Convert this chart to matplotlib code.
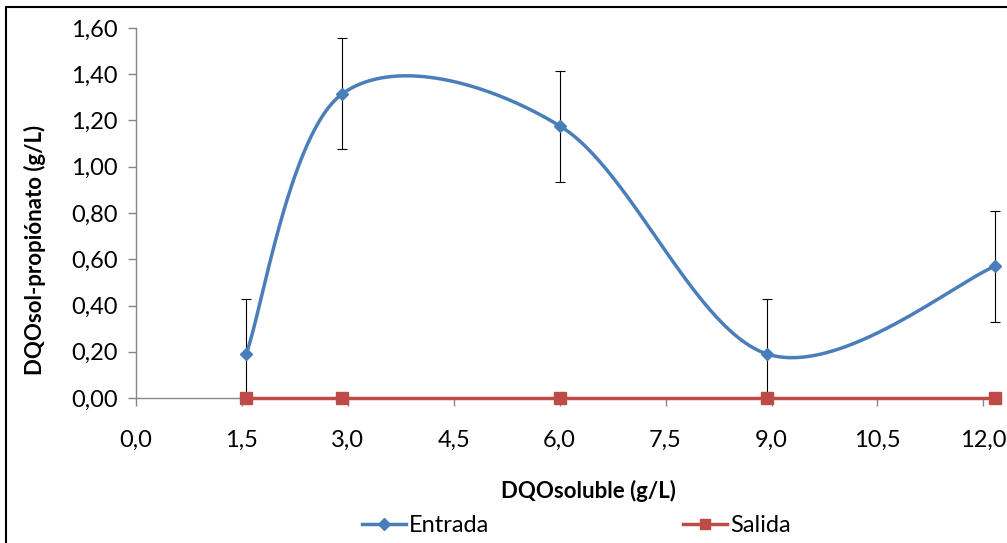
"""DQO propionato: entrada vs salida, Excel-style smoothed line with error bars."""

import matplotlib
matplotlib.use("Agg")
import matplotlib.pyplot as plt
import numpy as np
from matplotlib.patches import Rectangle
from matplotlib.ticker import FuncFormatter, MultipleLocator

# data
dqo_soluble = [1.56, 2.92, 6.01, 8.94, 12.17]
entrada = [0.19, 1.315, 1.175, 0.19, 0.57]
entrada_err = [0.24, 0.24, 0.24, 0.24, 0.24]
salida = [0.0, 0.0, 0.0, 0.0, 0.0]

BLUE = "#4A7EBB"
RED = "#BE4B48"
GREY = "#868686"
FONT = ["Lato", "DejaVu Sans"]


def _smooth(x, y, n=60):
    """Catmull-Rom style Bezier smoothing, like Excel's 'smoothed line'."""
    x = np.asarray(x, float)
    y = np.asarray(y, float)
    p = np.column_stack([x, y])
    pts = []
    for i in range(len(p) - 1):
        p0 = p[i - 1] if i > 0 else p[i]
        p3 = p[i + 2] if i + 2 < len(p) else p[i + 1]
        p1, p2 = p[i], p[i + 1]
        c1 = p1 + (p2 - p0) / 6.0
        c2 = p2 - (p3 - p1) / 6.0
        t = np.linspace(0, 1, n)[:, None]
        seg = ((1 - t) ** 3) * p1 + 3 * ((1 - t) ** 2) * t * c1 + 3 * (1 - t) * t**2 * c2 + t**3 * p2
        pts.append(seg if i == 0 else seg[1:])
    out = np.vstack(pts)
    return out[:, 0], out[:, 1]


plt.rcParams["font.family"] = FONT

fig = plt.figure(figsize=(10.07, 5.43), dpi=100)
fig.patches.append(
    Rectangle((6 / 1007, -0.05), 1.1, 1 - 7 / 543 + 0.05, transform=fig.transFigure,
              fill=False, edgecolor="black", linewidth=1.5)
)
ax = fig.add_axes([136 / 1007, 1 - 398 / 543, (1001 - 136) / 1007, (398 - 28) / 543])

sx, sy = _smooth(dqo_soluble, entrada)
ax.plot(sx, sy, color=BLUE, linewidth=2.5, zorder=3)
ax.errorbar(dqo_soluble, entrada, yerr=entrada_err, fmt="none", ecolor="black",
            elinewidth=0.8, capsize=3.5, capthick=0.8, zorder=2)
ax.plot(dqo_soluble, entrada, linestyle="none", marker="D", markersize=6.5,
        color=BLUE, zorder=4)
ax.plot(dqo_soluble, salida, color=RED, linewidth=2.5, marker="s", markersize=8,
        zorder=5, clip_on=False)

# legend proxies
ax.plot([], [], color=BLUE, linewidth=2.5, marker="D", markersize=6, label="Entrada")
ax.plot([], [], color=RED, linewidth=2.5, marker="s", markersize=7, label="Salida")

ax.set_xlim(0, 12.25)
ax.set_ylim(0, 1.6)
ax.xaxis.set_major_locator(MultipleLocator(1.5))
ax.yaxis.set_major_locator(MultipleLocator(0.2))
ax.xaxis.set_major_formatter(FuncFormatter(lambda v, _: f"{v:.1f}".replace(".", ",")))
ax.yaxis.set_major_formatter(FuncFormatter(lambda v, _: f"{v:.2f}".replace(".", ",")))

for side in ("top", "right"):
    ax.spines[side].set_visible(False)
for side in ("left", "bottom"):
    ax.spines[side].set_color(GREY)
    ax.spines[side].set_linewidth(1.0)
ax.tick_params(axis="both", direction="out", length=6, width=1.0, color=GREY,
               labelsize=17, labelcolor="black")
ax.tick_params(axis="x", pad=17)
ax.tick_params(axis="y", pad=7)

ax.set_xlabel("DQOsoluble (g/L)", fontsize=16, fontweight="bold")
ax.set_ylabel("DQOsol-propiónato (g/L)", fontsize=16, fontweight="bold")
ax.xaxis.set_label_coords(0.523, -0.222)
ax.yaxis.set_label_coords(-0.117, 0.40)
ax.yaxis.label.set_va("center")

handles, labels = ax.get_legend_handles_labels()
fig.legend(handles, labels, loc="center", bbox_to_anchor=(576 / 1007, 1 - 526 / 543),
           ncol=2, frameon=False, fontsize=17, columnspacing=8.2, handlelength=1.9,
           handletextpad=0.1, borderpad=0)

fig.savefig("out.png", dpi=100)
